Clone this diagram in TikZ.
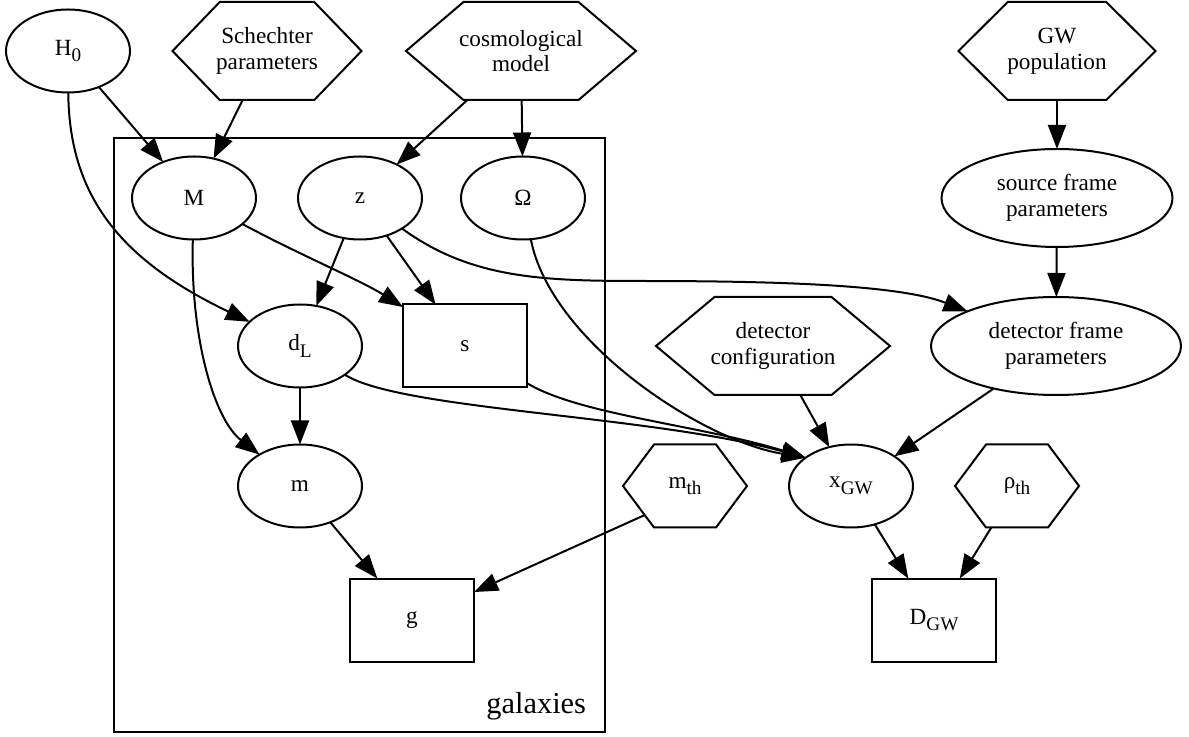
\documentclass[tikz,border=0pt]{standalone}
\usepackage{fontspec}
\setmainfont{Liberation Serif}
\usetikzlibrary{shapes.geometric,calc,arrows.meta}
\newcommand{\lowidx}[1]{\raisebox{-.6ex}{\fontsize{9.6}{10}\selectfont #1}}

\begin{document}
\begin{tikzpicture}[x=0.5pt,y=-0.5pt,
  >={Triangle[length=12pt,width=9pt]},
  every node/.style={font=\fontsize{11.6}{12.8}\selectfont, inner sep=0pt, outer sep=0pt, align=center},
  var/.style={draw, ellipse, line width=1pt, minimum width=62pt, minimum height=41.5pt},
  obs/.style={draw, rectangle, line width=1pt, minimum width=62pt, minimum height=41.5pt},
  hyper/.style={minimum width=62pt, minimum height=49pt},
  edge/.style={->, line width=1pt}]
\useasboundingbox (0,0) rectangle (1189,737);

% top row
\node[var] (H0) at (68,51) {H\lowidx{0}};
\node[hyper, minimum width=94.5pt] (schechter) at (267,51) {Schechter\\parameters};
\node[hyper, minimum width=115pt] (cosmo) at (521,51) {cosmological\\model};
\node[hyper, minimum width=98.5pt] (gwpop) at (1057,51) {GW\\population};

\node[var] (M) at (194,198) {M};
\node[var] (z) at (360,198) {z};
\node[var] (Omega) at (523,198) {Ω};
\node[var, minimum width=115.5pt, minimum height=49pt] (source) at (1057,198) {source frame\\parameters};

\node[var] (dL) at (300,346) {d\lowidx{L}};
\node[obs] (s) at (465,346) {s};
\node[hyper, minimum width=117pt] (detconf) at (773,346) {detector\\configuration};
\node[var, minimum width=125pt, minimum height=49pt] (detframe) at (1056,346) {detector frame\\parameters};

\node[var] (m) at (300,486) {m};
\node[hyper, minimum height=41.5pt] (mth) at (685,486) {m\lowidx{th}};
\node[var] (xGW) at (851,486) {x\lowidx{GW}};
\node[hyper, minimum height=41.5pt] (rhoth) at (1017,486) {ρ\lowidx{th}};

\node[obs] (g) at (412,620) {g};
\node[obs] (DGW) at (934,620) {D\lowidx{GW}};

% hexagons round the fixed quantities
\foreach \n in {schechter,cosmo,gwpop,detconf,mth,rhoth}{
  \coordinate (\n-w) at (\n.west);
  \coordinate (\n-bl) at ($(\n.south west)!.25!(\n.south east)$);
  \draw[line width=1pt] (\n-w) -- ($(\n.north west)!.25!(\n.north east)$)
    -- ($(\n.north west)!.75!(\n.north east)$) -- (\n.east)
    -- ($(\n.south west)!.75!(\n.south east)$) -- (\n-bl) -- cycle;
}

% plate
\draw[line width=1pt] (114,138) rectangle (605,732);
\node[font=\fontsize{15.2}{18}\selectfont, anchor=base east] (platelabel) at (586,713) {galaxies};

\draw[edge] (H0) -- (M);
\draw[edge] (schechter) -- (M);
\draw[edge] (cosmo) -- (z);
\draw[edge] (cosmo) -- (Omega);
\draw[edge] (gwpop) -- (source);
\draw[edge] (H0) .. controls (69,200) and (125,262) .. (dL);
\draw[edge] (M) .. controls (300,255) and (360,280) .. (s);
\draw[edge] (M) .. controls (190,340) and (215,420) .. (m);
\draw[edge] (z) -- (dL);
\draw[edge] (z) -- (s);
\draw[edge] (z) .. controls (470,278) and (540,281) .. (640,281)
  .. controls (780,281) and (900,285) .. (detframe);
\draw[edge] (Omega) .. controls (550,340) and (700,440) .. (xGW.148);
\draw[edge] (dL) .. controls (400,410) and (650,415) .. (xGW.148);
\draw[edge] (s) .. controls (580,415) and (700,425) .. (xGW.148);
\draw[edge] (source) -- (detframe);
\draw[edge] (detconf) -- (xGW);
\draw[edge] (detframe) -- (xGW);
\draw[edge] (dL) -- (m);
\draw[edge] (m) -- (g);
\draw[edge] ($(mth-w)!.7!(mth-bl)$) -- (g);
\draw[edge] (xGW) -- (DGW);
\draw[edge] (rhoth) -- (DGW);
\end{tikzpicture}
\end{document}
